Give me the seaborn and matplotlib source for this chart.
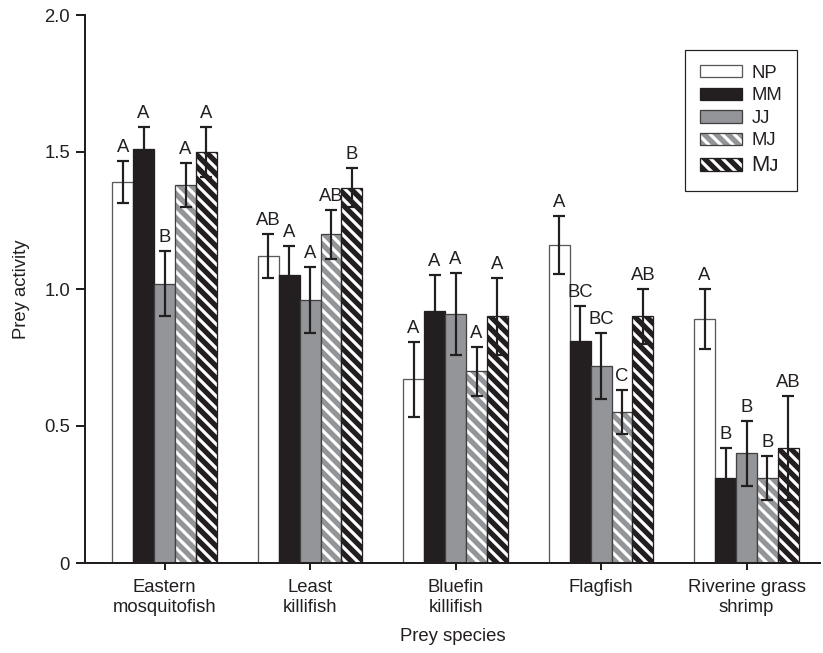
import numpy as np
import pandas as pd
import matplotlib
matplotlib.use("Agg")
import matplotlib.pyplot as plt
import seaborn as sns
from matplotlib.patches import Patch, Rectangle

# ---- data ----
species = ["Eastern\nmosquitofish", "Least\nkillifish", "Bluefin\nkillifish",
           "Flagfish", "Riverine grass\nshrimp"]
groups = ["NP", "MM", "JJ", "MJ", "Mᴊ"]

mean_np = [1.39, 1.12, 0.67, 1.16, 0.89]
mean_mm = [1.51, 1.05, 0.92, 0.81, 0.31]
mean_jj = [1.02, 0.96, 0.91, 0.72, 0.40]
mean_mj = [1.38, 1.20, 0.70, 0.55, 0.31]
mean_mj2 = [1.50, 1.37, 0.90, 0.90, 0.42]

se_np = [0.076, 0.08, 0.136, 0.107, 0.11]
se_mm = [0.083, 0.107, 0.13, 0.128, 0.11]
se_jj = [0.12, 0.12, 0.15, 0.12, 0.12]
se_mj = [0.08, 0.09, 0.09, 0.08, 0.08]
se_mj2 = [0.09, 0.07, 0.14, 0.10, 0.19]

lab_np = ["A", "AB", "A", "A", "A"]
lab_mm = ["A", "A", "A", "BC", "B"]
lab_jj = ["B", "A", "A", "BC", "B"]
lab_mj = ["A", "AB", "A", "C", "B"]
lab_mj2 = ["A", "B", "A", "AB", "AB"]

means = [mean_np, mean_mm, mean_jj, mean_mj, mean_mj2]
ses = [se_np, se_mm, se_jj, se_mj, se_mj2]
labels = [lab_np, lab_mm, lab_jj, lab_mj, lab_mj2]

df = pd.DataFrame({
    "species": species * len(groups),
    "group": np.repeat(groups, len(species)),
    "activity": np.concatenate(means),
})

# ---- style ----
ink = "#231f20"
face = {"NP": "white", "MM": ink, "JJ": "#939598", "MJ": "#939598", "Mᴊ": ink}
edge = {"NP": "#58595b", "MM": ink, "JJ": "#414042", "MJ": "#414042", "Mᴊ": ink}
hatched = {"MJ", "Mᴊ"}
fs = 18.5

sns.set_style("ticks")
plt.rcParams["font.family"] = ["Liberation Sans", "DejaVu Sans"]
plt.rcParams["hatch.linewidth"] = 3.2
plt.rcParams["text.color"] = ink
plt.rcParams["axes.labelcolor"] = ink
plt.rcParams["xtick.color"] = ink
plt.rcParams["ytick.color"] = ink

fig = plt.figure(figsize=(823 / 72, 653 / 72), dpi=72)
ax = fig.add_axes([85 / 823, 90 / 653, (820 - 85) / 823, (563 - 15) / 653])

sns.barplot(data=df, x="species", y="activity", hue="group", order=species,
            hue_order=groups, palette=face, width=0.72, errorbar=None,
            saturation=1, legend=False, ax=ax)

for cont, g, se, lab in zip(ax.containers, groups, ses, labels):
    xs, tops = [], []
    for p in cont.patches:
        p.set_zorder(2)
        if g in hatched:
            p.set_hatch("\\\\")
            p.set_edgecolor("white")
            p.set_linewidth(0)
            ax.add_patch(Rectangle((p.get_x(), p.get_y()), p.get_width(), p.get_height(),
                                   fill=False, edgecolor=edge[g], linewidth=1.3, zorder=2.5))
        else:
            p.set_edgecolor(edge[g])
            p.set_linewidth(1.3)
        xs.append(p.get_x() + p.get_width() / 2)
        tops.append(p.get_height())
    ax.errorbar(xs, tops, yerr=se, fmt="none", ecolor=ink, elinewidth=2.2,
                capsize=6, capthick=2.2, zorder=3)
    for x, t, e, s in zip(xs, tops, se, lab):
        ax.annotate(s, (x, t + e), xytext=(0, 5), textcoords="offset points",
                    ha="center", va="bottom", fontsize=fs)

ax.set_ylim(0, 2.0)
ax.set_xlim(-0.547, 4.505)
ax.set_yticks([0, 0.5, 1.0, 1.5, 2.0])
ax.set_yticklabels(["0", "0.5", "1.0", "1.5", "2.0"], fontsize=fs)
ax.tick_params(axis="y", length=9, width=2, pad=6)
ax.tick_params(axis="x", length=7, width=2, pad=9, labelsize=fs)
for t in ax.get_xticklabels():
    t.set_linespacing(1.25)
ax.set_xlabel("Prey species", fontsize=fs, labelpad=12)
ax.set_ylabel("Prey activity", fontsize=fs, labelpad=14)
sns.despine(ax=ax)
for s in ["left", "bottom"]:
    ax.spines[s].set_linewidth(2)
    ax.spines[s].set_color(ink)

# ---- legend ----
handles = []
for g in groups:
    if g in hatched:
        h = (Patch(facecolor=face[g], edgecolor="white", hatch="\\\\", linewidth=0),
             Patch(fill=False, edgecolor=edge[g], linewidth=1.3))
    else:
        h = Patch(facecolor=face[g], edgecolor=edge[g], linewidth=1.3)
    handles.append(h)
leg = ax.legend(handles, groups, loc="upper left",
                bbox_to_anchor=(685 / 823, 1 - 50 / 653),
                bbox_transform=fig.transFigure, borderaxespad=0,
                fontsize=fs, frameon=True, fancybox=False, framealpha=1,
                edgecolor=ink, handlelength=2.3, handleheight=0.65,
                handletextpad=0.5, labelspacing=0.3, borderpad=0.8)
leg.get_frame().set_linewidth(1.2)
leg.get_texts()[-1].set_fontsize(22)

fig.savefig("out.png", dpi=72)
